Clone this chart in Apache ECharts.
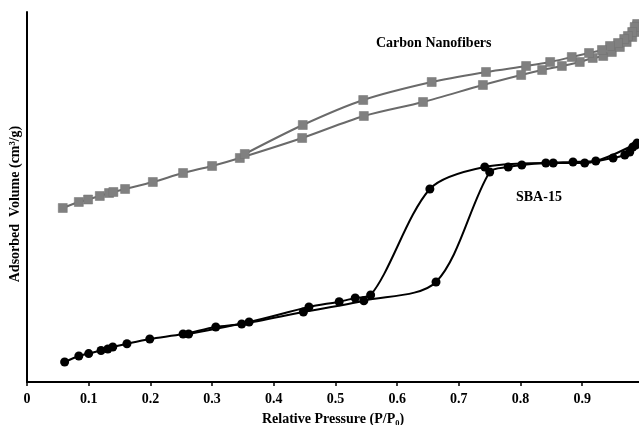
<!DOCTYPE html>
<html>
<head>
<meta charset="utf-8">
<script src="https://cdn.jsdelivr.net/npm/echarts@6/dist/echarts.min.js"></script>
<style>html,body{margin:0;padding:0;background:#fff}#c{width:639px;height:425px}</style>
</head>
<body>
<div id="c"></div>
<script>
// X tick values (relative pressure)
var xTicks = [0, 0.1, 0.2, 0.3, 0.4, 0.5, 0.6, 0.7, 0.8, 0.9];

// Carbon Nanofibers - adsorption branch [P/P0, volume (arb.)]
var cnfAdsP = [0.058,0.084,0.099,0.118,0.133,0.140,0.159,0.204,0.253,0.300,0.345,0.446,0.546,0.642,0.739,0.801,0.835,0.867,0.896,0.917,0.934,0.948,0.961,0.972,0.981,0.985,0.989];
var cnfAdsV = [174,180,182.5,186,189,190,193,200,209,216,224,244,266,280,297,307,312,316,320,324,326,330,335,340,345,350,356];
// Carbon Nanofibers - desorption branch
var cnfDesP = [0.989,0.985,0.981,0.974,0.968,0.958,0.945,0.932,0.911,0.883,0.848,0.809,0.744,0.656,0.545,0.447,0.353];
var cnfDesV = [358,355,350,346,343,339,336,332,329,325,320,316,310,300,282,257,228];

// SBA-15 - adsorption branch
var sbaAdsP = [0.061,0.084,0.100,0.120,0.131,0.139,0.162,0.199,0.253,0.306,0.348,0.448,0.546,0.663,0.750,0.780,0.802,0.841,0.885,0.922,0.950,0.969,0.977,0.982,0.987];
var sbaAdsV = [20,26,28.4,31.5,33,35,38.3,43,48,55,58,70,81.3,100,210,215,217,219,220,221,224,227,230,235,237];
// SBA-15 - desorption branch
var sbaDesP = [0.989,0.904,0.853,0.742,0.653,0.557,0.532,0.506,0.457,0.360,0.262];
var sbaDesV = [239,219,219,215,193,87,84,80.3,75,60,48];

// Axis / series titles
var xTitle = 'Relative Pressure (P/P\u2080)';
var yTitle = 'Adsorbed  Volume (cm\u00b3/g)';
var seriesNames = ['Carbon Nanofibers', 'SBA-15'];

function pairs(p, v){ return p.map(function(x,i){ return [x, v[i]]; }); }

var chart = echarts.init(document.getElementById('c'), null, {renderer:'canvas'});
var serif = 'Liberation Serif, Times New Roman, serif';

var cnfStyle = {
  type:'line', smooth:0.3, symbol:'rect', symbolSize:9,
  lineStyle:{color:'#6a6a6a', width:2},
  itemStyle:{color:'#808080', borderColor:'#707070', borderWidth:0.5},
  z:2
};
var sbaStyle = {
  type:'line', smooth:0.3, symbol:'circle', symbolSize:9,
  lineStyle:{color:'#000', width:2},
  itemStyle:{color:'#000'},
  z:3
};

chart.setOption({
  animation:false,
  grid:{left:27, right:0, top:12, bottom:43, containLabel:false, outerBoundsMode:'none'},
  xAxis:{
    type:'value', min:0, max:0.992, interval:0.1,
    axisLine:{show:true, lineStyle:{color:'#000', width:2}},
    axisTick:{show:true, length:4, inside:false, lineStyle:{color:'#000', width:1.5}},
    splitLine:{show:false},
    axisLabel:{
      color:'#000', fontFamily:serif, fontWeight:'bold', fontSize:14, margin:10,
      showMaxLabel:false,
      formatter:function(v){ return v===0 ? '0' : v.toFixed(1); }
    },
    name:xTitle, nameLocation:'middle', nameGap:30,
    nameTextStyle:{color:'#000', fontFamily:serif, fontWeight:'bold', fontSize:14}
  },
  yAxis:{
    type:'value', min:0, max:370,
    axisLine:{show:true, lineStyle:{color:'#000', width:2}},
    axisTick:{show:false}, axisLabel:{show:false}, splitLine:{show:false}
  },
  graphic:[
    {type:'text', x:15, y:204, rotation:Math.PI/2,
     style:{text:yTitle, fill:'#000', font:'bold 14px '+serif, align:'center', verticalAlign:'middle'}},
    {type:'text', left:376, top:36, style:{text:seriesNames[0], fill:'#000', font:'bold 14px '+serif}},
    {type:'text', left:516, top:190, style:{text:seriesNames[1], fill:'#000', font:'bold 14px '+serif}}
  ],
  series:[
    Object.assign({name:'CNF ads', data:pairs(cnfAdsP, cnfAdsV)}, cnfStyle),
    Object.assign({name:'CNF des', data:pairs(cnfDesP, cnfDesV)}, cnfStyle),
    Object.assign({name:'SBA ads', data:pairs(sbaAdsP, sbaAdsV)}, sbaStyle),
    Object.assign({name:'SBA des', data:pairs(sbaDesP, sbaDesV)}, sbaStyle)
  ]
});
</script>
</body>
</html>
